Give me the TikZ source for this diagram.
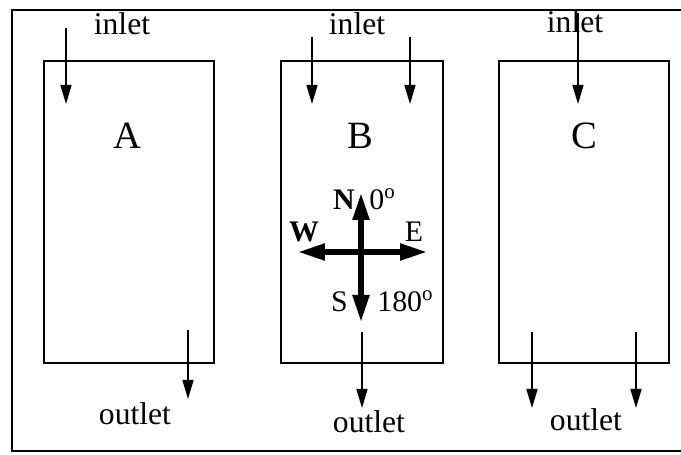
\documentclass[tikz,border=0pt]{standalone}
\usepackage{fontspec}
\setmainfont{Liberation Serif}
\usetikzlibrary{arrows.meta}
\tikzset{
  tank/.style={draw,line width=1.3pt,minimum height=6.04cm,anchor=north west,inner sep=0pt},
  flow/.style={line width=0.8pt,-{Triangle[length=3.8mm,width=2.2mm]}},
  compass/.style={line width=3pt,-{Triangle[length=5.4mm,width=3.2mm]}},
  portlabel/.style={font=\fontsize{18}{20}\selectfont,anchor=base,inner sep=0pt},
  tanklabel/.style={font=\fontsize{22}{24}\selectfont,anchor=base,inner sep=0pt},
  dirlabel/.style={font=\fontsize{17}{19}\selectfont,inner sep=0pt},
}

\begin{document}
\begin{tikzpicture}[x=0.02cm,y=-0.02cm]
  \useasboundingbox (0,0) rectangle (681,455);
  % outer frame, its right side runs off the page
  \draw[line width=1.4pt] (681,10) -- (12,10) -- (12,451) -- (681,451);

  % the three tanks
  \node[tank,minimum width=3.40cm] (tankA) at (43,60) {};
  \node[tank,minimum width=3.24cm] (tankB) at (280,60) {};
  \node[tank,minimum width=3.40cm] (tankC) at (498,60) {};
  \foreach \n/\x in {A/127, B/360, C/584}
    \node[tanklabel] (lab\n) at (\x,149) {\n};

  % inlets
  \foreach \n/\x/\y in {a/122/35, b/357/35, c/575/33}
    \node[portlabel] (inlet-\n) at (\x,\y) {inlet};
  \foreach \n/\x/\y in {a/66/28, b1/312/37, b2/410/37, c/578/13} {
    \coordinate (in-\n) at (\x,\y);
    \coordinate (in-\n-tip) at (\x,104);
    \draw[flow] (in-\n) -- (in-\n-tip);
  }

  % outlets
  \foreach \n/\x/\y in {a/135/425, b/369/433, c/586/431}
    \node[portlabel] (outlet-\n) at (\x,\y) {outlet};
  \foreach \n/\x/\y/\t in {a/188/330/399, b/362/332/408, c1/532/332/408, c2/636/332/408} {
    \coordinate (out-\n) at (\x,\y);
    \coordinate (out-\n-tip) at (\x,\t);
    \draw[flow] (out-\n) -- (out-\n-tip);
  }

  % compass in tank B
  \coordinate (ctr) at (361,252);
  \coordinate (north) at (361,193);
  \coordinate (south) at (361,322);
  \coordinate (west) at (298,252);
  \coordinate (east) at (427,252);
  \foreach \d in {north,south,west,east}
    \draw[compass] (ctr) -- (\d);
  \node[dirlabel,anchor=base east] (lblN) at (355,210) {\bfseries N};
  \node[dirlabel,anchor=base west] (lbl0) at (369,210) {0\textsuperscript{o}};
  \node[dirlabel,anchor=base] (lblW) at (304,242) {\bfseries W};
  \node[dirlabel,anchor=base] (lblE) at (414,242) {E};
  \node[dirlabel,anchor=base east] (lblS) at (348,312) {S};
  \node[dirlabel,anchor=base west] (lbl180) at (377,312) {180\textsuperscript{o}};
\end{tikzpicture}
\end{document}
